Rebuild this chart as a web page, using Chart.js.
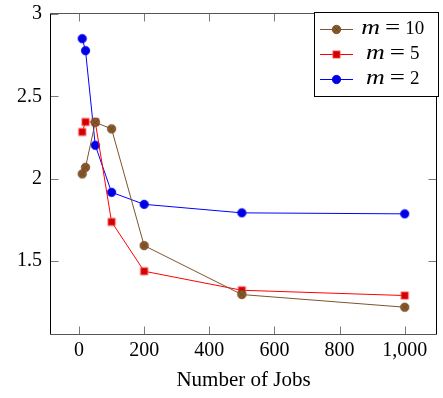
<!DOCTYPE html>
<html><head><meta charset="utf-8">
<script src="https://cdn.jsdelivr.net/npm/chart.js@4/dist/chart.umd.min.js"></script>
<style>html,body{margin:0;padding:0;background:#fff;overflow:hidden}#wrap{position:relative;width:443px;height:398px}</style>
</head><body><div id="wrap"><canvas id="c" width="443" height="398"></canvas></div>
<script>
// ---- data ----
const jobs = [10, 20, 50, 100, 200, 500, 1000];
const seriesLabels = ['m = 10', 'm = 5', 'm = 2'];
const m10 = [2.028, 2.068, 2.342, 2.302, 1.592, 1.294, 1.217];
const m5  = [2.283, 2.344, 2.344, 1.736, 1.436, 1.320, 1.288];
const m2  = [2.851, 2.778, 2.202, 1.916, 1.843, 1.791, 1.785];
const xTicks = [0, 200, 400, 600, 800, 1000];
const yTicks = [1.5, 2, 2.5, 3];
const xTitle = 'Number of Jobs';

const FONT = "'Liberation Serif', 'DejaVu Serif', serif";

function markerCanvas(kind) {
  const c = document.createElement('canvas');
  c.width = 11; c.height = 11;
  const g = c.getContext('2d');
  if (kind === 'otimes') {
    g.beginPath(); g.arc(5.5, 5.5, 4.2, 0, Math.PI * 2);
    g.fillStyle = '#8B5A2B'; g.fill();
    g.lineWidth = 0.8; g.strokeStyle = '#6A4420'; g.stroke();
    g.beginPath();
    const d = 2.8;
    g.moveTo(5.5 - d, 5.5 - d); g.lineTo(5.5 + d, 5.5 + d);
    g.moveTo(5.5 + d, 5.5 - d); g.lineTo(5.5 - d, 5.5 + d);
    g.lineWidth = 0.7; g.strokeStyle = '#5E3D1E'; g.stroke();
  } else if (kind === 'square') {
    g.fillStyle = '#FF5A5A'; g.fillRect(1.5, 1.5, 8, 8);
    g.fillStyle = '#D40000'; g.fillRect(2.3, 2.3, 6.4, 6.4);
  } else {
    g.beginPath(); g.arc(5.5, 5.5, 4.2, 0, Math.PI * 2);
    g.fillStyle = '#0000E0'; g.fill();
    g.lineWidth = 0.8; g.strokeStyle = '#0000FF'; g.stroke();
  }
  return c;
}

const styles = [
  { color: '#7B5430', marker: markerCanvas('otimes') },
  { color: '#FF0000', marker: markerCanvas('square') },
  { color: '#0000FF', marker: markerCanvas('circle') }
];
const seriesValues = [m10, m5, m2];

const datasets = seriesValues.map((vals, i) => ({
  label: seriesLabels[i],
  data: jobs.map((x, j) => ({ x: x, y: vals[j] })),
  borderColor: styles[i].color,
  backgroundColor: styles[i].color,
  borderWidth: 1,
  pointStyle: styles[i].marker,
  pointRadius: 5,
  tension: 0
}));

const boxPlugin = {
  id: 'pgfbox',
  beforeDatasetsDraw(chart) {
    const { ctx, chartArea: a, scales: { x, y } } = chart;
    const L = a.left + 0.5, R = a.right - 0.5, T = a.top + 0.5, B = a.bottom + 0.5;
    ctx.save();
    ctx.lineWidth = 1;
    ctx.strokeStyle = '#7a7a7a';
    ctx.beginPath();
    xTicks.forEach(v => {
      const px = Math.round(x.getPixelForValue(v)) + 0.5;
      ctx.moveTo(px, B); ctx.lineTo(px, B - 8);
      ctx.moveTo(px, T); ctx.lineTo(px, T + 8);
    });
    yTicks.forEach(v => {
      const py = Math.round(y.getPixelForValue(v)) + 0.5;
      ctx.moveTo(L, py); ctx.lineTo(L + 8, py);
      ctx.moveTo(R, py); ctx.lineTo(R - 8, py);
    });
    ctx.stroke();
    ctx.strokeStyle = '#000';
    ctx.beginPath();
    ctx.moveTo(L, T); ctx.lineTo(L, B);
    ctx.moveTo(R, T); ctx.lineTo(R, B);
    ctx.stroke();
    ctx.strokeStyle = '#555';
    ctx.beginPath();
    ctx.moveTo(L, T); ctx.lineTo(R, T);
    ctx.moveTo(L, B); ctx.lineTo(R, B);
    ctx.stroke();
    ctx.restore();
  }
};

function drawScaled(ctx, text, x, y, sx) {
  ctx.save();
  ctx.translate(x, y);
  ctx.scale(sx, 1);
  ctx.fillText(text, 0, 0);
  ctx.restore();
}

const legendPlugin = {
  id: 'pgflegend',
  afterDraw(chart) {
    const ctx = chart.ctx;
    ctx.save();
    const bx = 314.5, by = 12.5, bw = 124, bh = 84;
    ctx.fillStyle = '#fff';
    ctx.fillRect(bx, by, bw, bh);
    ctx.strokeStyle = '#000';
    ctx.lineWidth = 1;
    ctx.strokeRect(bx, by, bw, bh);
    chart.data.datasets.forEach((ds, i) => {
      const ym = 29 + i * 25;
      ctx.strokeStyle = ds.borderColor;
      ctx.lineWidth = 1;
      ctx.beginPath();
      ctx.moveTo(320, ym + 0.5); ctx.lineTo(353, ym + 0.5);
      ctx.stroke();
      const mk = ds.pointStyle;
      ctx.drawImage(mk, 336.5 - mk.width / 2, ym + 0.5 - mk.width / 2);
      // label "m = 10": italic variable, upright rest
      const parts = ds.label.split(' = ');
      const fv = 'italic 20px ' + FONT, fe = '20px ' + FONT, fn = '19px ' + FONT;
      const sv = 1.3, se = 1.35;
      ctx.font = fv; const wv = ctx.measureText(parts[0]).width * sv;
      ctx.font = fe; const we = ctx.measureText('=').width * se;
      ctx.font = fn; const wn = ctx.measureText(parts[1]).width;
      const gap = 5;
      const total = wv + gap + we + gap + wn;
      let tx = 392.7 - total / 2;
      const base = ym + 4.8;
      ctx.fillStyle = '#000';
      ctx.textBaseline = 'alphabetic';
      ctx.textAlign = 'left';
      ctx.font = fv; drawScaled(ctx, parts[0], tx, base, sv); tx += wv + gap;
      ctx.font = fe; drawScaled(ctx, '=', tx, base, se); tx += we + gap;
      ctx.font = fn; ctx.fillText(parts[1], tx, base);
    });
    ctx.restore();
  }
};

function zeroPad(s) { s.paddingTop = 0; s.paddingBottom = 0; s.paddingLeft = 0; s.paddingRight = 0; }

new Chart(document.getElementById('c'), {
  type: 'line',
  data: { datasets: datasets },
  options: {
    responsive: false,
    animation: false,
    devicePixelRatio: 1,
    events: [],
    layout: { padding: { left: 0, right: 4, top: 13, bottom: 0 } },
    plugins: { legend: { display: false }, tooltip: { enabled: false } },
    scales: {
      x: {
        type: 'linear',
        min: -89, max: 1099,
        afterBuildTicks: s => { s.ticks = xTicks.map(v => ({ value: v })); },
        afterFit: s => { s.height = 64; zeroPad(s); },
        grid: { display: false, drawTicks: false },
        border: { display: false },
        ticks: {
          autoSkip: false, maxRotation: 0, padding: 5, color: '#000',
          font: { family: FONT, size: 20 },
          callback: v => Number(v).toLocaleString('en-US')
        },
        title: {
          display: true, text: xTitle, color: '#000',
          font: { family: FONT, size: 21 },
          padding: { top: 0, bottom: 5 }
        }
      },
      y: {
        type: 'linear',
        min: 1.054, max: 3.007,
        afterBuildTicks: s => { s.ticks = yTicks.map(v => ({ value: v })); },
        afterFit: s => { s.width = 50; zeroPad(s); },
        grid: { display: false, drawTicks: false },
        border: { display: false },
        ticks: {
          autoSkip: false, padding: 8, color: '#000',
          font: { family: FONT, size: 20 },
          callback: v => String(v)
        }
      }
    }
  },
  plugins: [boxPlugin, legendPlugin]
});
</script>
</body></html>
